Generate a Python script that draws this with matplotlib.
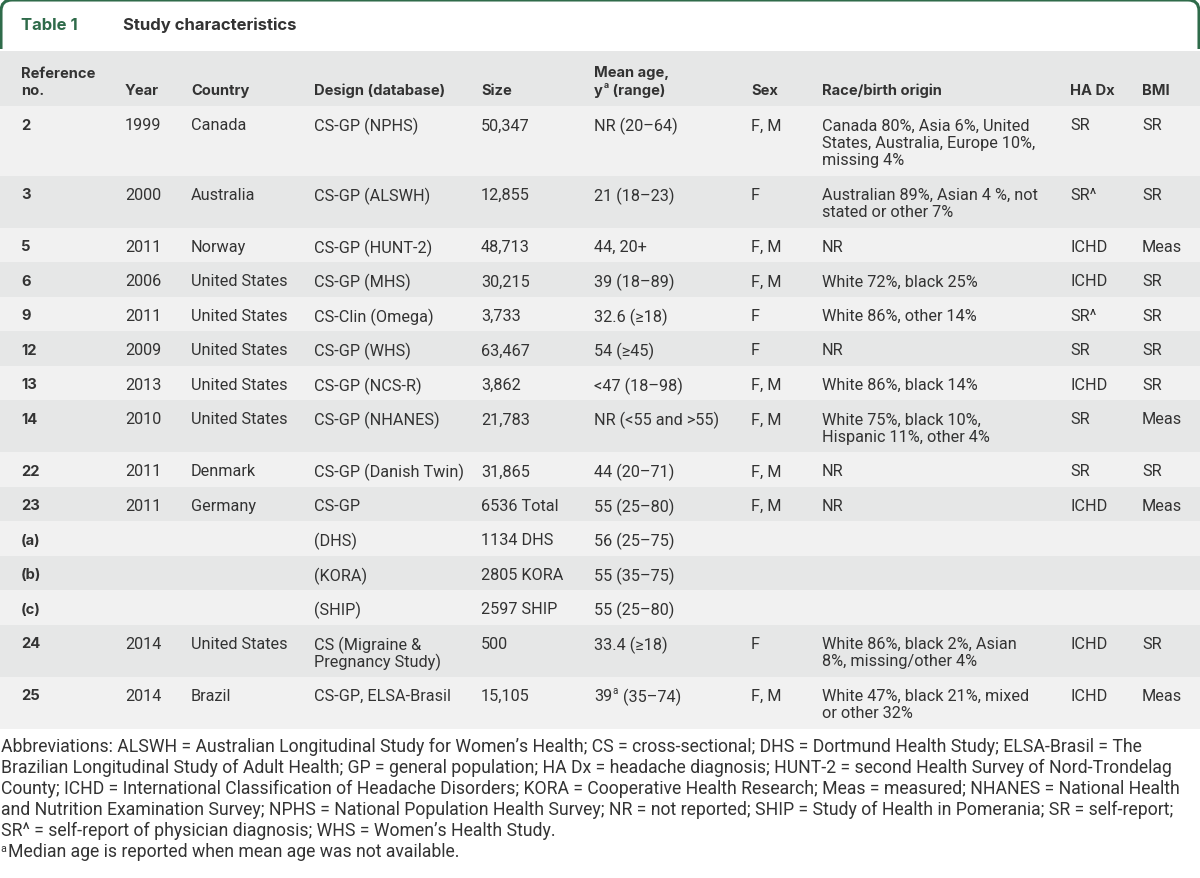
import matplotlib
matplotlib.use("Agg")
import matplotlib.pyplot as plt
from matplotlib.path import Path
from matplotlib.patches import PathPatch

# ---- table content -------------------------------------------------------
title_label = "Table 1"
title_text = "Study characteristics"

header_top = ["Reference", "", "", "", "", "Mean age,", "", "", "", ""]
header_bottom = ["no.", "Year", "Country", "Design (database)", "Size",
                 "y{a} (range)", "Sex", "Race/birth origin", "HA Dx", "BMI"]

ref_no = ["2", "3", "5", "6", "9", "12", "13", "14", "22", "23",
          "(a)", "(b)", "(c)", "24", "25"]
years = ["1999", "2000", "2011", "2006", "2011", "2009", "2013", "2010",
         "2011", "2011", "", "", "", "2014", "2014"]
countries = ["Canada", "Australia", "Norway", "United States", "United States",
             "United States", "United States", "United States", "Denmark",
             "Germany", "", "", "", "United States", "Brazil"]
designs = ["CS-GP (NPHS)", "CS-GP (ALSWH)", "CS-GP (HUNT-2)", "CS-GP (MHS)",
           "CS-Clin (Omega)", "CS-GP (WHS)", "CS-GP (NCS-R)", "CS-GP (NHANES)",
           "CS-GP (Danish Twin)", "CS-GP", "(DHS)", "(KORA)", "(SHIP)",
           "CS (Migraine &\nPregnancy Study)", "CS-GP, ELSA-Brasil"]
sizes = ["50,347", "12,855", "48,713", "30,215", "3,733", "63,467", "3,862",
         "21,783", "31,865", "6536 Total", "1134 DHS", "2805 KORA",
         "2597 SHIP", "500", "15,105"]
ages = ["NR (20–64)", "21 (18–23)", "44, 20+", "39 (18–89)", "32.6 (≥18)",
        "54 (≥45)", "<47 (18–98)", "NR (<55 and >55)", "44 (20–71)",
        "55 (25–80)", "56 (25–75)", "55 (35–75)", "55 (25–80)", "33.4 (≥18)",
        "39{a} (35–74)"]
sexes = ["F, M", "F", "F, M", "F, M", "F", "F", "F, M", "F, M", "F, M",
         "F, M", "", "", "", "F", "F, M"]
races = ["Canada 80%, Asia 6%, United\nStates, Australia, Europe 10%,\nmissing 4%",
         "Australian 89%, Asian 4 %, not\nstated or other 7%",
         "NR", "White 72%, black 25%", "White 86%, other 14%", "NR",
         "White 86%, black 14%", "White 75%, black 10%,\nHispanic 11%, other 4%",
         "NR", "NR", "", "", "",
         "White 86%, black 2%, Asian\n8%, missing/other 4%",
         "White 47%, black 21%, mixed\nor other 32%"]
ha_dx = ["SR", "SR^", "ICHD", "ICHD", "SR^", "SR", "ICHD", "SR", "SR", "ICHD",
         "", "", "", "ICHD", "ICHD"]
bmi = ["SR", "SR", "Meas", "SR", "SR", "SR", "SR", "Meas", "SR", "Meas",
       "", "", "", "SR", "Meas"]

footnote_lines = [
    "Abbreviations: ALSWH = Australian Longitudinal Study for Women’s Health; CS = cross-sectional; DHS = Dortmund Health Study; ELSA-Brasil = The",
    "Brazilian Longitudinal Study of Adult Health; GP = general population; HA Dx = headache diagnosis; HUNT-2 = second Health Survey of Nord-Trondelag",
    "County; ICHD = International Classification of Headache Disorders; KORA = Cooperative Health Research; Meas = measured; NHANES = National Health",
    "and Nutrition Examination Survey; NPHS = National Population Health Survey; NR = not reported; SHIP = Study of Health in Pomerania; SR = self-report;",
    "SR^ = self-report of physician diagnosis; WHS = Women’s Health Study.",
]
footnote_a = "Median age is reported when mean age was not available."

# ---- styling -------------------------------------------------------------
W, H = 1200, 879
GREEN = "#2f6b4a"
TEXT = "#333333"
ROW_LIGHT = "#f1f1f1"
ROW_DARK = "#e6e7e7"
BODY = ["Roboto", "Liberation Sans", "DejaVu Sans"]
BOLD = ["Inter", "DejaVu Sans"]
BODY_SIZE = 11.7
HEAD_SIZE = 10.6
FOOT_SIZE = 12.7

col_x = [21, 125, 191, 314, 481, 594, 751, 822, 1070, 1142]
header_y0, header_y1 = 52, 107
row_pad = 34.5    # height of a one-line row
line_step = 17.5  # extra height per extra line

fig = plt.figure(figsize=(W / 100, H / 100), dpi=100)
ax = fig.add_axes([0, 0, 1, 1])
ax.set_xlim(0, W)
ax.set_ylim(H, 0)
ax.axis("off")
renderer = fig.canvas.get_renderer()


def put(x, y, s, size, family, weight="normal", color=TEXT):
    # draws text, turning "{a}" into a small raised "a"
    cx = x
    for i, part in enumerate(s.split("{a}")):
        if i > 0:
            t = ax.text(cx + 0.5, y - 5, "a", fontsize=size * 0.6, family=family,
                        weight=weight, color=color, va="center_baseline", ha="left")
            cx += t.get_window_extent(renderer).width + 1
        if part:
            t = ax.text(cx, y, part, fontsize=size, family=family, weight=weight,
                        color=color, va="center_baseline", ha="left")
            cx += t.get_window_extent(renderer).width
    return cx


# ---- frame and title -----------------------------------------------------
r = 11
verts = [(1, 50), (1, 1 + r), (1, 1), (1 + r, 1), (W - 1 - r, 1), (W - 1, 1),
         (W - 1, 1 + r), (W - 1, 50)]
codes = [Path.MOVETO, Path.LINETO, Path.CURVE3, Path.CURVE3, Path.LINETO,
         Path.CURVE3, Path.CURVE3, Path.LINETO]
ax.add_patch(PathPatch(Path(verts, codes), fill=False, edgecolor=GREEN, lw=2.2))
ax.text(21, 24, title_label, fontsize=12, family=BOLD, weight="bold",
        color=GREEN, va="center_baseline")
ax.text(123, 24, title_text, fontsize=12, family=BOLD, weight="bold",
        color=TEXT, va="center_baseline")

# ---- header --------------------------------------------------------------
ax.barh([(header_y0 + header_y1) / 2], [W], height=header_y1 - header_y0,
        left=0, color=ROW_DARK)
for x, top, bot in zip(col_x, header_top, header_bottom):
    if top:
        put(x, 72, top, HEAD_SIZE, BOLD, "bold")
    put(x, 89.5, bot, HEAD_SIZE, BOLD, "bold")

# ---- body rows -----------------------------------------------------------
columns = [ref_no, years, countries, designs, sizes, ages, sexes, races, ha_dx, bmi]
n_lines = [max(col[i].count("\n") + 1 for col in columns) for i in range(len(ref_no))]
heights = [row_pad + (n - 1) * line_step for n in n_lines]
tops = [header_y1 + sum(heights[:i]) for i in range(len(heights))]
centers = [t + h / 2 for t, h in zip(tops, heights)]
colors = [ROW_LIGHT if i % 2 == 0 else ROW_DARK for i in range(len(ref_no))]
ax.barh(centers, [W] * len(centers), height=heights, left=0, color=colors)

for i, top in enumerate(tops):
    for j, (x, col) in enumerate(zip(col_x, columns)):
        for k, line in enumerate(col[i].split("\n")):
            if not line:
                continue
            y = top + 17.5 + k * line_step
            if j == 0:
                put(x, y, line, HEAD_SIZE, BOLD, "bold")
            else:
                put(x, y, line, BODY_SIZE, BODY)

# ---- footnotes -----------------------------------------------------------
foot_y = [747 + 21 * i for i in range(len(footnote_lines))]
for y, line in zip(foot_y, footnote_lines):
    ax.text(1, y + 5, line, fontsize=FOOT_SIZE, family=BODY, color=TEXT,
            va="baseline", ha="left")

ya = foot_y[-1] + 21
ax.text(0.5, ya, "a", fontsize=FOOT_SIZE * 0.6, family=BODY, color=TEXT,
        va="baseline", ha="left")
ax.text(8, ya + 5, footnote_a, fontsize=FOOT_SIZE, family=BODY, color=TEXT,
        va="baseline", ha="left")

fig.savefig("out.png", dpi=100)
